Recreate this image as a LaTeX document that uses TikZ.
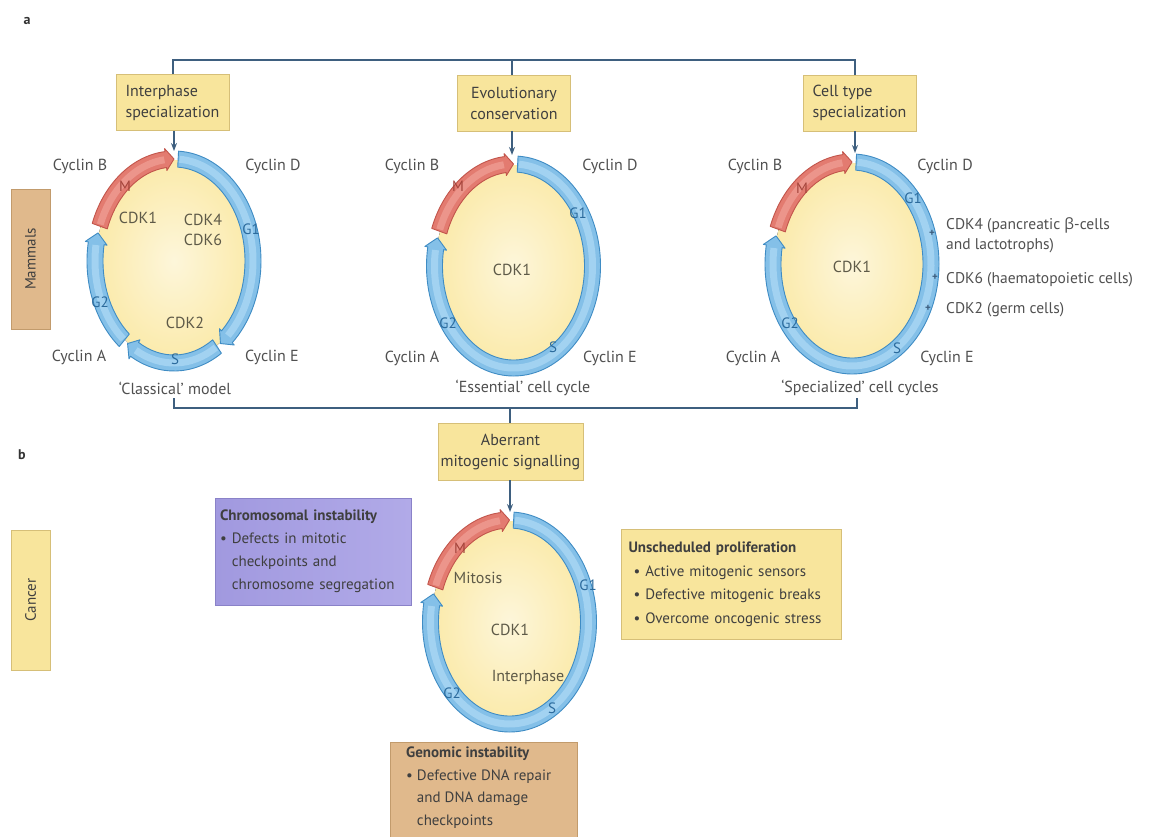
\documentclass[tikz,border=0pt]{standalone}
\usepackage{fontspec}
\setmainfont{PT Sans}
\newfontfamily\grk{Open Sans}
\usetikzlibrary{arrows.meta,calc}
\definecolor{conn}{HTML}{3E5F7F}
\definecolor{labc}{HTML}{505050}
\definecolor{inc}{HTML}{5E5A48}
\definecolor{boxt}{HTML}{3F3F3F}
\definecolor{yelbox}{HTML}{F8E59C}
\definecolor{yelbd}{HTML}{D6BF78}
\definecolor{yelin}{HTML}{FDF6DA}
\definecolor{yelout}{HTML}{FBEAAA}
\definecolor{bluf}{HTML}{84C0E8}
\definecolor{blue}{HTML}{3F8CC4}
\definecolor{bluh}{HTML}{A2D2F1}
\definecolor{redf}{HTML}{E37B70}
\definecolor{rede}{HTML}{C2554B}
\definecolor{redh}{HTML}{EC958B}
\definecolor{gtxt}{HTML}{2B6A9C}
\definecolor{mtxt}{HTML}{A3433A}
\definecolor{tan}{HTML}{E0B98C}
\definecolor{tanbd}{HTML}{C29B6C}
\definecolor{purp}{HTML}{A199DF}
\definecolor{purpl}{HTML}{B1AAE8}
\definecolor{purpbd}{HTML}{8A82C8}
\newcommand\RingSeg[5]{%
 \filldraw[fill=#3, draw=#4, line width=0.9pt, line join=round]
  ({#1}:87pt and 110pt) arc[start angle={#1}, end angle={#2}, x radius=87pt, y radius=110pt]
  -- ({#2}:90pt and 113pt) -- ({#2-6}:79pt and 102pt) -- ({#2}:68pt and 91pt) -- ({#2}:71pt and 94pt)
  arc[start angle={#2}, end angle={#1}, x radius=71pt, y radius=94pt] -- cycle;
 \draw[#5, line width=7pt] ({#1-1}:79pt and 102pt) arc[start angle={#1-1}, end angle={#2+1}, x radius=79pt, y radius=102pt];
}
\newcommand\Inner{\fill[inner color=yelin, outer color=yelout] (0,0) ellipse [x radius=78pt, y radius=101pt];}
\begin{document}
\begin{tikzpicture}[x=1pt,y=1pt,
  every node/.style={inner sep=0pt},
  lbl/.style={font=\fontsize{16}{20}\selectfont, text=labc},
  inl/.style={font=\fontsize{16}{20}\selectfont, text=inc},
  gl/.style={font=\fontsize{15}{18}\selectfont, text=gtxt},
  ml/.style={font=\fontsize{15}{18}\selectfont, text=mtxt},
  ybox/.style={draw=yelbd, fill=yelbox, line width=0.8pt, font=\fontsize{16}{21}\selectfont, text=boxt, minimum width=113pt, minimum height=56pt},
  side/.style={rotate=90, minimum width=140pt, minimum height=39pt, line width=0.8pt, font=\fontsize{15}{18}\selectfont, text=boxt},
  conline/.style={draw=conn, line width=1.6pt},
  conarr/.style={conline, -{Stealth[length=8pt,width=6pt]}},
  plus/.style={font=\fontsize{11}{12}\selectfont\bfseries, text=conn}
]
\useasboundingbox (0,0) rectangle (1150,-836);
\clip (0,0) rectangle (1150,-836);
\fill[white] (0,0) rectangle (1150,-836);

% panel letters
\node[font=\fontsize{14}{16}\selectfont\bfseries, text=black!80] (pa) at (27,-21) {a};
\node[font=\fontsize{14}{16}\selectfont\bfseries, text=black!80] (pb) at (22,-455) {b};

% side boxes
\node[side, draw=tanbd, fill=tan] (mam) at (30.5,-259) {Mammals};
\node[side, draw=yelbd, fill=yelbox] (can) at (30.5,-600) {Cancer};

% top boxes
\node[ybox, align=left] (b1) at (172.5,-102.5) {Interphase\\specialization};
\node[ybox, align=center] (b2) at (514,-103) {Evolutionary\\conservation};
\node[ybox, align=left] (b3) at (859.5,-103) {Cell type\\specialization};
\node[ybox, align=center, minimum width=145pt, minimum height=57pt] (b4) at (510.5,-451.5) {Aberrant\\mitogenic signalling};

% connector coordinates
\coordinate (tl) at (173,-60);
\coordinate (tm) at (512,-60);
\coordinate (tr) at (855,-60);
\coordinate (c1t) at (174,-151);
\coordinate (c2t) at (512,-155);
\coordinate (c3t) at (855,-153);
\coordinate (c4t) at (510,-512);
\coordinate (bl) at (174,-398);
\coordinate (br) at (857,-398);
\coordinate (bm) at (510,-408);

\draw[conline] (tl |- b1.north) -- (tl) -- (tr) -- (tr |- b3.north);
\draw[conline] (tm) -- (tm |- b2.north);
\draw[conarr] (b1.south -| c1t) -- (c1t);
\draw[conarr] (b2.south -| c2t) -- (c2t);
\draw[conarr] (b3.south -| c3t) -- (c3t);
\draw[conline] (bl) -- (bl |- bm) -- (br |- bm) -- (br);
\draw[conline] (bm) -- (b4.north -| bm);
\draw[conarr] (b4.south -| c4t) -- (c4t);

% cycle 1 (classical)
\begin{scope}[shift={(174,-261)}]
 \Inner
 \RingSeg{160}{96}{redf}{rede}{redh}
 \RingSeg{87}{-48}{bluf}{blue}{bluh}
 \RingSeg{-57}{-120}{bluf}{blue}{bluh}
 \RingSeg{-129}{-190}{bluf}{blue}{bluh}
\end{scope}
% cycle 2
\begin{scope}[shift={(513.5,-266)}]
 \Inner
 \RingSeg{160}{96}{redf}{rede}{redh}
 \RingSeg{87}{-190}{bluf}{blue}{bluh}
\end{scope}
% cycle 3
\begin{scope}[shift={(852,-264)}]
 \Inner
 \RingSeg{160}{96}{redf}{rede}{redh}
 \RingSeg{87}{-190}{bluf}{blue}{bluh}
\end{scope}
% cycle 4
\begin{scope}[shift={(509.5,-622)}]
 \Inner
 \RingSeg{160}{96}{redf}{rede}{redh}
 \RingSeg{87}{-190}{bluf}{blue}{bluh}
\end{scope}

% cycle 1 labels
\node[lbl] (c1b) at (80,-166) {Cyclin B};
\node[lbl] (c1d) at (273,-166) {Cyclin D};
\node[lbl] (c1a) at (79,-357) {Cyclin A};
\node[lbl] (c1e) at (272,-357) {Cyclin E};
\node[lbl] (c1n) at (175,-388) {‘Classical’ model};
\node[ml] (c1m) at (125,-186) {M};
\node[gl] (c1g1) at (251,-229) {G1};
\node[gl] (c1g2) at (100,-302) {G2};
\node[gl] (c1s) at (175,-359) {S};
\node[inl] (c1k1) at (138,-218) {CDK1};
\node[inl, align=center, font=\fontsize{16}{20}\selectfont] (c1k4) at (203,-230) {CDK4\\CDK6};
\node[inl] (c1k2) at (185,-323) {CDK2};

% cycle 2 labels
\node[lbl] (c2b) at (412,-166) {Cyclin B};
\node[lbl] (c2d) at (610,-166) {Cyclin D};
\node[lbl] (c2a) at (412,-358) {Cyclin A};
\node[lbl] (c2e) at (610,-358) {Cyclin E};
\node[lbl] (c2n) at (523,-388) {‘Essential’ cell cycle};
\node[ml] (c2m) at (458,-186) {M};
\node[gl] (c2g1) at (578,-213) {G1};
\node[gl] (c2g2) at (448,-323) {G2};
\node[gl] (c2s) at (553,-347) {S};
\node[inl] (c2k1) at (512,-270) {CDK1};

% cycle 3 labels
\node[lbl] (c3b) at (755,-166) {Cyclin B};
\node[lbl] (c3d) at (945,-166) {Cyclin D};
\node[lbl] (c3a) at (753,-358) {Cyclin A};
\node[lbl] (c3e) at (947,-358) {Cyclin E};
\node[lbl] (c3n) at (860,-388) {‘Specialized’ cell cycles};
\node[ml] (c3m) at (802,-188) {M};
\node[gl] (c3g1) at (913,-198) {G1};
\node[gl] (c3g2) at (790,-323) {G2};
\node[gl] (c3s) at (897,-348) {S};
\node[inl] (c3k1) at (852,-267) {CDK1};
\node[plus] (p1) at (932,-233) {+};
\node[plus] (p2) at (935,-277) {+};
\node[plus] (p3) at (928,-308) {+};
\node[lbl, anchor=west, align=left, font=\fontsize{15.5}{20}\selectfont] (t4) at (946,-235) {CDK4 (pancreatic {\grk β}-cells\\and lactotrophs)};
\node[lbl, anchor=west, font=\fontsize{15.5}{20}\selectfont] (t6) at (946,-280) {CDK6 (haematopoietic cells)};
\node[lbl, anchor=west, font=\fontsize{15.5}{20}\selectfont] (t2) at (946,-310) {CDK2 (germ cells)};

% cycle 4 labels
\node[ml] (c4m) at (460,-548) {M};
\node[gl] (c4g1) at (588,-585) {G1};
\node[gl] (c4g2) at (452,-693) {G2};
\node[gl] (c4s) at (552,-708) {S};
\node[inl] (c4mi) at (478,-578) {Mitosis};
\node[inl] (c4k1) at (510,-630) {CDK1};
\node[inl] (c4ip) at (528,-677) {Interphase};

% cancer boxes
\node[draw=purpbd, line width=0.8pt, left color=purp, right color=purpl, minimum width=196pt, minimum height=107pt,
      text width=186pt, align=left, font=\fontsize{15}{23}\selectfont, text=boxt] (chr) at (313,-551.5)
  {\textbf{Chromosomal instability}\\• Defects in mitotic\\\phantom{• }checkpoints and\\\phantom{• }chromosome segregation};
\node[draw=yelbd, fill=yelbox, line width=0.8pt, minimum width=220pt, minimum height=110pt,
      text width=205pt, align=left, font=\fontsize{15}{23.5}\selectfont, text=boxt] (uns) at (731,-584)
  {\textbf{Unscheduled proliferation}\\\ • Active mitogenic sensors\\\ • Defective mitogenic breaks\\\ • Overcome oncogenic stress};
\node[draw=tanbd, fill=tan, line width=0.8pt, minimum width=187pt, minimum height=120pt, anchor=north west,
      text width=170pt, align=left, font=\fontsize{15}{22.5}\selectfont, text=boxt, inner sep=0pt] (gen) at (390,-742) {};
\node[anchor=north west, align=left, font=\fontsize{15}{22.5}\selectfont, text=boxt] (gent) at (406,-747)
  {\textbf{Genomic instability}\\• Defective DNA repair\\\phantom{• }and DNA damage\\\phantom{• }checkpoints};
\end{tikzpicture}
\end{document}
